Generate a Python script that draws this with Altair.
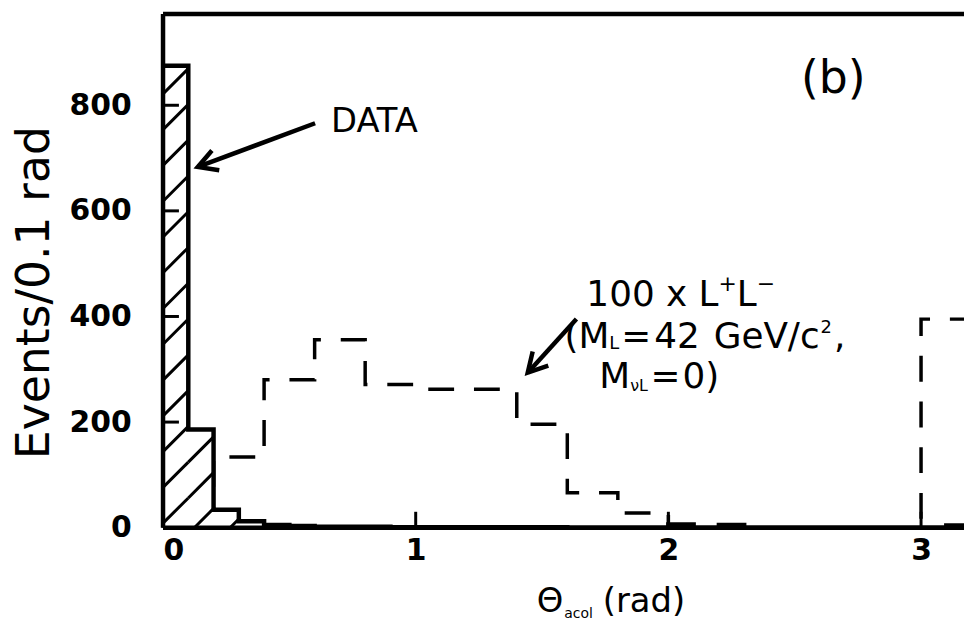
import math
import altair as alt
import numpy as np
import pandas as pd

# ------------------------------------------------------------------ data
bin_lo = [round(0.1 * i, 1) for i in range(32)]
bin_width = 0.1
data_counts = [875, 186, 34, 12, 5, 3, 2, 2, 2, 1, 1, 1, 1, 1, 1, 1,
               0, 0, 0, 0, 6, 0, 5, 0, 0, 0, 0, 0, 0, 0, 0, 4]
mc_counts = [0, 0, 134, 134, 280, 280, 356, 356, 271, 271, 262, 262, 262, 262, 196, 196,
             66, 66, 28, 28, 0, 0, 0, 0, 0, 0, 0, 0, 0, 0, 395, 395]
x_ticks = [0, 1, 2, 3]
y_ticks = [0, 200, 400, 600, 800]

# ------------------------------------------------------------------ layout
W, H = 806, 517
XMAX, YMAX = 3.17, 973
PX_X = W / XMAX
PX_Y = H / YMAX
OX, OY = 164, 12  # page position of plot origin


def px2x(px):
    return (px - OX) / PX_X


def py2y(py):
    return (OY + H - py) / PX_Y


xs = alt.Scale(domain=[0, XMAX], nice=False, zero=False)
ys = alt.Scale(domain=[0, YMAX], nice=False)

FONT = "DejaVu Sans"
xaxis = alt.Axis(values=x_ticks, format="d", ticks=False, domain=False, grid=False,
                 labelFontSize=30, labelFont=FONT, labelFontWeight="bold",
                 labelPadding=8, labelColor="black", title=None)
yaxis = alt.Axis(values=y_ticks, format="d", ticks=False, domain=False, grid=False,
                 labelFontSize=30, labelFont=FONT, labelFontWeight="bold",
                 labelPadding=32, labelColor="black",
                 title="Events/0.1 rad", titleFontSize=46, titleFont=FONT,
                 titleFontWeight="normal", titleColor="black", titlePadding=11,
                 titleY=280)


def X(f="x"):
    return alt.X(f"{f}:Q", scale=xs, axis=xaxis)


def Y(f="y"):
    return alt.Y(f"{f}:Q", scale=ys, axis=yaxis)


def step_df(counts):
    return pd.DataFrame({"x": bin_lo + [bin_lo[-1] + bin_width],
                         "y": counts + [counts[-1]]})


data_df = step_df(data_counts)
mc_df = step_df(mc_counts)

# hatch segments (45 degree lines in screen space) clipped to the data histogram
k = PX_X / PX_Y
spacing = 36 / PX_X
segs = []
for c in np.arange(-2.0, 0.5, spacing):
    for lo, v in zip(bin_lo, data_counts):
        hi = lo + bin_width
        a = max(lo, c)
        b = min(hi, c + v / k)
        if b > a + 1e-9:
            segs.append({"x": a, "y": k * (a - c), "x2": b, "y2": k * (b - c)})
hatch_df = pd.DataFrame(segs)

# ------------------------------------------------------------------ layers
mc_line = alt.Chart(mc_df).mark_line(
    interpolate="step-after", color="black", strokeWidth=3.5,
    strokeDash=[26, 20], clip=True).encode(x=X(), y=Y())

data_fill = alt.Chart(data_df).mark_area(
    interpolate="step-after", color="white", opacity=1, clip=True).encode(x=X(), y=Y())

hatch = alt.Chart(hatch_df).mark_rule(color="black", strokeWidth=3, clip=True).encode(
    x=X(), y=Y(), x2="x2:Q", y2="y2:Q")

data_line = alt.Chart(data_df).mark_line(
    interpolate="step-after", color="black", strokeWidth=4.5, clip=True).encode(x=X(), y=Y())

one = pd.DataFrame({"a": [0]})
frame_top = alt.Chart(one).mark_rule(color="black", strokeWidth=4.5).encode(
    x=alt.value(0), x2=alt.value(W), y=alt.value(0))
frame_left = alt.Chart(one).mark_rule(color="black", strokeWidth=4.5).encode(
    x=alt.value(0), y=alt.value(0), y2=alt.value(H))
frame_bottom = alt.Chart(one).mark_rule(color="black", strokeWidth=4.5).encode(
    x=alt.value(0), x2=alt.value(W), y=alt.value(H))

yt = alt.Chart(pd.DataFrame({"y": y_ticks})).mark_rule(color="black", strokeWidth=3).encode(
    y=Y(), x=alt.value(0), x2=alt.value(16))
xt = alt.Chart(pd.DataFrame({"x": x_ticks})).mark_rule(color="black", strokeWidth=3).encode(
    x=X(), y=alt.value(H), y2=alt.value(H - 16))

# arrows (page pixel estimates -> data coords)
arrows_px = [((317, 122), (199, 166)), ((580, 319), (531, 373))]
arr = []
for (tx, ty), (hx, hy) in arrows_px:
    dxp, dyp = hx - tx, hy - ty
    ang = math.degrees(math.atan2(dxp, -dyp)) % 360
    arr.append({"x": px2x(tx), "y": py2y(ty), "x2": px2x(hx), "y2": py2y(hy), "ang": ang})
arr_df = pd.DataFrame(arr)
arrow_shaft = alt.Chart(arr_df).mark_rule(color="black", strokeWidth=4.5).encode(
    x=X(), y=Y(), x2="x2:Q", y2="y2:Q")
arrow_head = alt.Chart(arr_df).mark_point(
    shape="M -0.5 0.9 L 0 0 L 0.5 0.9", filled=False, color="black",
    strokeWidth=4.5, size=1800, opacity=1).encode(
    x=X("x2"), y=Y("y2"), angle=alt.Angle("ang:Q", scale=None))

# text annotations: pieces are (text, font size, baseline shift, gap before)
DJ = {"(": .390, ")": .390, "M": .863, "L": .557, "=": .838, "4": .636, "2": .636,
      " ": .318, "G": .775, "e": .615, "V": .684, "/": .337, "c": .550, ",": .318,
      "0": .636, "1": .636, "x": .592, "+": .838, "−": .838, "D": .770, "A": .684,
      "T": .611, "b": .635, "Θ": .787, "a": .613, "o": .612, "l": .278, "r": .411,
      "d": .635, "ν": .592}
annotations = [
    ([("DATA", 34, 0, 0)], 333, 131),
    ([("(b)", 46, 0, 0)], 806, 92),
    ([("100 x L", 36, 0, 0), ("+", 22, -15, 0), ("L", 36, 0, 0), ("−", 22, -15, 0)], 590, 306),
    ([("(M", 36, 0, 0), ("L", 18, 1, 0), ("=", 36, 0, 2), ("42", 36, 0, 3),
      ("GeV/c", 36, 0, 14), ("2", 18, -15, 1), (",", 36, 0, 2)], 568, 348),
    ([("M", 36, 0, 0), ("νL", 16, 3, 0), ("=", 36, 0, 2), ("0)", 36, 0, 2)], 603, 388),
    ([("Θ", 34, 0, 0), ("acol", 14, 6, 1), ("(rad)", 34, 0, 10)], 540, 614),
]
rows = []
for pieces, left, base in annotations:
    cx = left
    for txt, size, dy, gap in pieces:
        cx += gap
        rows.append({"x": px2x(cx), "y": py2y(base + dy), "t": txt, "s": size})
        cx += sum(DJ.get(ch, 0.6) for ch in txt) * size
text_df = pd.DataFrame(rows)
texts = alt.Chart(text_df).mark_text(
    align="left", baseline="alphabetic", font=FONT, color="black").encode(
    x=X(), y=Y(), text="t:N", size=alt.Size("s:Q", scale=None, legend=None))

chart = alt.layer(
    mc_line, data_fill, hatch, data_line, frame_top, frame_left, frame_bottom,
    yt, xt, arrow_shaft, arrow_head, texts
).properties(
    width=W, height=H,
    autosize=alt.AutoSizeParams(type="none"),
    padding={"left": OX - 8, "top": OY - 8, "right": 0, "bottom": 100},
    background="white",
).configure_view(stroke=None)

chart.save("out.html", embed_options={"renderer": "svg", "actions": False})
